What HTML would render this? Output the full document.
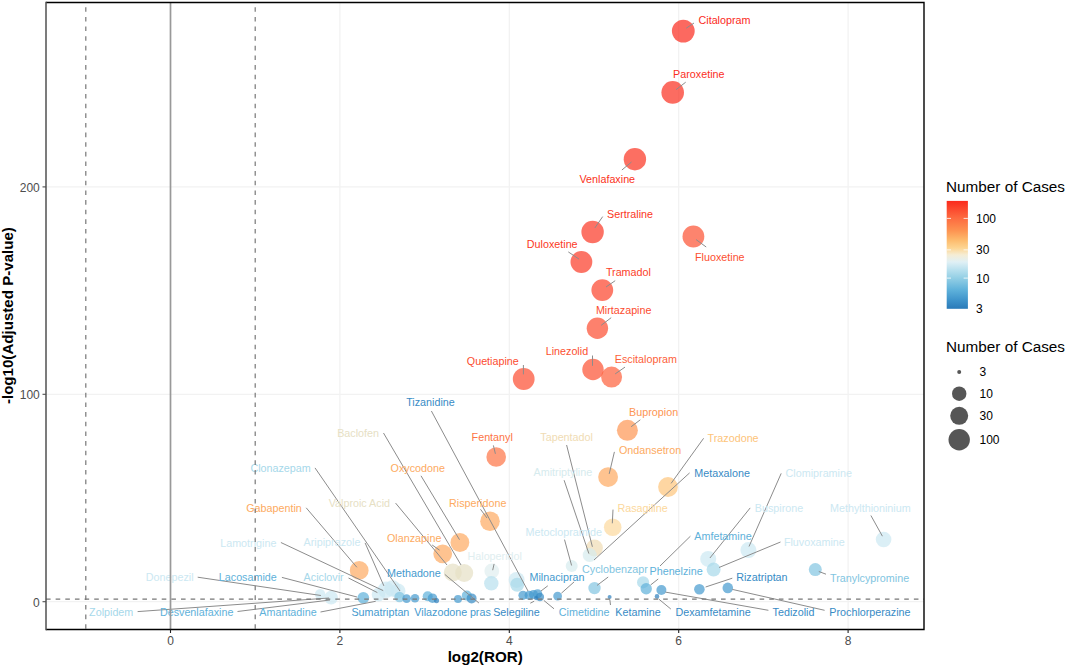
<!DOCTYPE html>
<html><head><meta charset="utf-8"><style>
html,body{margin:0;padding:0;background:#fff;}
svg{display:block;}
text{font-family:"Liberation Sans",sans-serif;}
</style></head><body>
<svg width="1065" height="667" viewBox="0 0 1065 667">
<defs><linearGradient id="cb" x1="0" y1="1" x2="0" y2="0">
<stop offset="0.000" stop-color="#2a7ab8"/>
<stop offset="0.082" stop-color="#3f94cb"/>
<stop offset="0.174" stop-color="#5eb1da"/>
<stop offset="0.285" stop-color="#93cfe5"/>
<stop offset="0.360" stop-color="#b8e0ee"/>
<stop offset="0.434" stop-color="#e0f0f5"/>
<stop offset="0.499" stop-color="#f5edd5"/>
<stop offset="0.563" stop-color="#fdd592"/>
<stop offset="0.638" stop-color="#fdba6c"/>
<stop offset="0.730" stop-color="#fd9150"/>
<stop offset="0.842" stop-color="#fd6a40"/>
<stop offset="1.000" stop-color="#fb2a1c"/>
</linearGradient></defs>
<rect width="1065" height="667" fill="#fff"/>
<line x1="339.9" y1="2.5" x2="339.9" y2="629.5" stroke="#f2f2f2" stroke-width="1.3"/>
<line x1="509.3" y1="2.5" x2="509.3" y2="629.5" stroke="#f2f2f2" stroke-width="1.3"/>
<line x1="678.7" y1="2.5" x2="678.7" y2="629.5" stroke="#f2f2f2" stroke-width="1.3"/>
<line x1="848.1" y1="2.5" x2="848.1" y2="629.5" stroke="#f2f2f2" stroke-width="1.3"/>
<line x1="46" y1="601.7" x2="924" y2="601.7" stroke="#f2f2f2" stroke-width="1.3"/>
<line x1="46" y1="394.3" x2="924" y2="394.3" stroke="#f2f2f2" stroke-width="1.3"/>
<line x1="46" y1="186.9" x2="924" y2="186.9" stroke="#f2f2f2" stroke-width="1.3"/>
<circle cx="683.3" cy="31.1" r="11.4" fill="#fb2a1c" fill-opacity="0.7"/>
<circle cx="672.7" cy="92.4" r="11.3" fill="#fb2e1e" fill-opacity="0.7"/>
<circle cx="634.9" cy="159.2" r="11.2" fill="#fb3220" fill-opacity="0.7"/>
<circle cx="592.6" cy="232.0" r="11.2" fill="#fb3623" fill-opacity="0.7"/>
<circle cx="693.4" cy="236.5" r="10.9" fill="#fc5031" fill-opacity="0.7"/>
<circle cx="581.4" cy="262.0" r="10.9" fill="#fb3925" fill-opacity="0.7"/>
<circle cx="602.3" cy="290.1" r="10.9" fill="#fc4129" fill-opacity="0.7"/>
<circle cx="597.4" cy="328.3" r="10.7" fill="#fc4c2f" fill-opacity="0.7"/>
<circle cx="593.0" cy="369.5" r="10.7" fill="#fc5031" fill-opacity="0.7"/>
<circle cx="611.6" cy="377.1" r="10.5" fill="#fd5f3a" fill-opacity="0.7"/>
<circle cx="523.7" cy="379.0" r="10.9" fill="#fc4c2f" fill-opacity="0.7"/>
<circle cx="496.2" cy="457.0" r="9.8" fill="#fd7444" fill-opacity="0.7"/>
<circle cx="627.4" cy="430.3" r="10.5" fill="#fd9553" fill-opacity="0.7"/>
<circle cx="608.1" cy="477.1" r="9.9" fill="#fdaa61" fill-opacity="0.7"/>
<circle cx="668.0" cy="487.0" r="9.9" fill="#fdc47a" fill-opacity="0.7"/>
<circle cx="490.0" cy="521.2" r="9.8" fill="#fdaa61" fill-opacity="0.7"/>
<circle cx="459.9" cy="542.5" r="9.4" fill="#fdaa61" fill-opacity="0.7"/>
<circle cx="442.7" cy="553.8" r="9.4" fill="#fdaa61" fill-opacity="0.7"/>
<circle cx="359.2" cy="570.4" r="9.4" fill="#fdaa61" fill-opacity="0.7"/>
<circle cx="612.7" cy="527.3" r="8.8" fill="#fcd89c" fill-opacity="0.7"/>
<circle cx="594.4" cy="548.0" r="8.5" fill="#f0dcb4" fill-opacity="0.7"/>
<circle cx="589.7" cy="555.1" r="7.0" fill="#d6ebee" fill-opacity="0.7"/>
<circle cx="452.8" cy="572.5" r="9.0" fill="#e6e0c4" fill-opacity="0.7"/>
<circle cx="464.2" cy="573.0" r="9.0" fill="#e6e0c4" fill-opacity="0.7"/>
<circle cx="491.8" cy="571.0" r="7.4" fill="#e0eef0" fill-opacity="0.7"/>
<circle cx="491.3" cy="583.3" r="7.2" fill="#b8e0ee" fill-opacity="0.7"/>
<circle cx="516.6" cy="579.9" r="8.0" fill="#cce8f2" fill-opacity="0.7"/>
<circle cx="517.2" cy="584.8" r="7.0" fill="#a6d8ea" fill-opacity="0.7"/>
<circle cx="571.7" cy="566.0" r="6.0" fill="#d6ebee" fill-opacity="0.7"/>
<circle cx="594.5" cy="588.1" r="6.2" fill="#81c5e1" fill-opacity="0.7"/>
<circle cx="320.1" cy="594.3" r="5.2" fill="#cce8f2" fill-opacity="0.7"/>
<circle cx="331.1" cy="597.6" r="6.8" fill="#cce8f2" fill-opacity="0.7"/>
<circle cx="363.3" cy="597.8" r="5.9" fill="#5eb1da" fill-opacity="0.7"/>
<circle cx="378.5" cy="594.6" r="6.8" fill="#cce8f2" fill-opacity="0.7"/>
<circle cx="386.0" cy="589.8" r="8.3" fill="#cce8f2" fill-opacity="0.7"/>
<circle cx="392.5" cy="588.5" r="8.3" fill="#cce8f2" fill-opacity="0.7"/>
<circle cx="398.0" cy="591.0" r="7.5" fill="#cce8f2" fill-opacity="0.7"/>
<circle cx="399.5" cy="597.0" r="5.2" fill="#81c5e1" fill-opacity="0.7"/>
<circle cx="406.6" cy="598.6" r="4.3" fill="#459ace" fill-opacity="0.7"/>
<circle cx="415.0" cy="598.2" r="4.3" fill="#459ace" fill-opacity="0.7"/>
<circle cx="427.7" cy="596.2" r="5.0" fill="#5eb1da" fill-opacity="0.7"/>
<circle cx="432.5" cy="598.2" r="4.8" fill="#459ace" fill-opacity="0.7"/>
<circle cx="436.5" cy="600.6" r="2.6" fill="#2e7fbc" fill-opacity="0.7"/>
<circle cx="458.0" cy="599.0" r="4.0" fill="#459ace" fill-opacity="0.7"/>
<circle cx="466.8" cy="595.6" r="5.0" fill="#5eb1da" fill-opacity="0.7"/>
<circle cx="471.6" cy="598.4" r="5.0" fill="#388bc5" fill-opacity="0.7"/>
<circle cx="523.0" cy="595.3" r="4.6" fill="#459ace" fill-opacity="0.7"/>
<circle cx="529.2" cy="595.3" r="4.6" fill="#459ace" fill-opacity="0.7"/>
<circle cx="533.5" cy="594.5" r="4.5" fill="#459ace" fill-opacity="0.7"/>
<circle cx="537.6" cy="593.8" r="4.6" fill="#459ace" fill-opacity="0.7"/>
<circle cx="539.9" cy="597.0" r="4.2" fill="#388bc5" fill-opacity="0.7"/>
<circle cx="536.2" cy="598.1" r="2.2" fill="#2e7fbc" fill-opacity="0.7"/>
<circle cx="557.6" cy="596.1" r="4.4" fill="#459ace" fill-opacity="0.7"/>
<circle cx="609.6" cy="596.9" r="2.0" fill="#2e7fbc" fill-opacity="0.7"/>
<circle cx="643.1" cy="582.3" r="6.1" fill="#a6d8ea" fill-opacity="0.7"/>
<circle cx="646.2" cy="588.7" r="5.7" fill="#5eb1da" fill-opacity="0.7"/>
<circle cx="661.4" cy="590.0" r="5.0" fill="#459ace" fill-opacity="0.7"/>
<circle cx="657.0" cy="596.4" r="2.3" fill="#2e7fbc" fill-opacity="0.7"/>
<circle cx="699.4" cy="589.2" r="5.3" fill="#459ace" fill-opacity="0.7"/>
<circle cx="727.8" cy="587.9" r="5.3" fill="#459ace" fill-opacity="0.7"/>
<circle cx="708.2" cy="558.9" r="8.0" fill="#cce8f2" fill-opacity="0.7"/>
<circle cx="713.6" cy="569.6" r="7.0" fill="#a6d8ea" fill-opacity="0.7"/>
<circle cx="748.4" cy="550.1" r="8.0" fill="#cce8f2" fill-opacity="0.7"/>
<circle cx="815.3" cy="569.6" r="6.5" fill="#81c5e1" fill-opacity="0.7"/>
<circle cx="883.6" cy="539.5" r="7.8" fill="#cce8f2" fill-opacity="0.7"/>
<line x1="686.2" y1="28.2" x2="694" y2="23" stroke="#8c8c8c" stroke-width="1.0"/>
<line x1="676" y1="89.7" x2="685.7" y2="82.2" stroke="#8c8c8c" stroke-width="1.0"/>
<line x1="631.5" y1="162" x2="621.9" y2="170" stroke="#8c8c8c" stroke-width="1.0"/>
<line x1="594.9" y1="227.9" x2="602.7" y2="216.6" stroke="#8c8c8c" stroke-width="1.0"/>
<line x1="696.1" y1="239.6" x2="706.2" y2="247" stroke="#8c8c8c" stroke-width="1.0"/>
<line x1="568.3" y1="251.9" x2="579" y2="259.1" stroke="#8c8c8c" stroke-width="1.0"/>
<line x1="606" y1="287" x2="615.2" y2="280.7" stroke="#8c8c8c" stroke-width="1.0"/>
<line x1="601.2" y1="325.3" x2="611.2" y2="317.7" stroke="#8c8c8c" stroke-width="1.0"/>
<line x1="592.5" y1="355.5" x2="592.5" y2="365.8" stroke="#8c8c8c" stroke-width="1.0"/>
<line x1="615.2" y1="373.9" x2="625" y2="367.1" stroke="#8c8c8c" stroke-width="1.0"/>
<line x1="523.4" y1="365" x2="523.4" y2="374.4" stroke="#8c8c8c" stroke-width="1.0"/>
<line x1="431.4" y1="411" x2="528" y2="591" stroke="#8c8c8c" stroke-width="1.0"/>
<line x1="383.5" y1="433" x2="461" y2="565" stroke="#8c8c8c" stroke-width="1.0"/>
<line x1="493.4" y1="445.4" x2="495.4" y2="453.8" stroke="#8c8c8c" stroke-width="1.0"/>
<line x1="315" y1="467.9" x2="400" y2="591" stroke="#8c8c8c" stroke-width="1.0"/>
<line x1="421" y1="475.8" x2="459.5" y2="539.7" stroke="#8c8c8c" stroke-width="1.0"/>
<line x1="395.6" y1="503.1" x2="447" y2="565" stroke="#8c8c8c" stroke-width="1.0"/>
<line x1="480.5" y1="509.3" x2="487" y2="518" stroke="#8c8c8c" stroke-width="1.0"/>
<line x1="306.2" y1="507.8" x2="356.9" y2="567.3" stroke="#8c8c8c" stroke-width="1.0"/>
<line x1="432.2" y1="545" x2="439.6" y2="550.2" stroke="#8c8c8c" stroke-width="1.0"/>
<line x1="444.8" y1="574.4" x2="478.9" y2="603" stroke="#8c8c8c" stroke-width="1.0"/>
<line x1="494.1" y1="563.9" x2="492.7" y2="570.2" stroke="#8c8c8c" stroke-width="1.0"/>
<line x1="280.9" y1="542.5" x2="383.2" y2="590.6" stroke="#8c8c8c" stroke-width="1.0"/>
<line x1="365.1" y1="542.9" x2="383.9" y2="585.9" stroke="#8c8c8c" stroke-width="1.0"/>
<line x1="281.9" y1="577.4" x2="357" y2="597" stroke="#8c8c8c" stroke-width="1.0"/>
<line x1="348.5" y1="578" x2="377.4" y2="592.6" stroke="#8c8c8c" stroke-width="1.0"/>
<line x1="197.7" y1="577.2" x2="320.9" y2="595.5" stroke="#8c8c8c" stroke-width="1.0"/>
<line x1="137.6" y1="611.6" x2="329" y2="598" stroke="#8c8c8c" stroke-width="1.0"/>
<line x1="237.5" y1="611.5" x2="330" y2="600" stroke="#8c8c8c" stroke-width="1.0"/>
<line x1="320.5" y1="612" x2="375.7" y2="601.3" stroke="#8c8c8c" stroke-width="1.0"/>
<line x1="543.8" y1="600.4" x2="554" y2="608.8" stroke="#8c8c8c" stroke-width="1.0"/>
<line x1="530.3" y1="603.2" x2="534.2" y2="601.2" stroke="#8c8c8c" stroke-width="1.0"/>
<line x1="609.8" y1="599.5" x2="610.5" y2="605" stroke="#8c8c8c" stroke-width="1.0"/>
<line x1="658.7" y1="599" x2="670.8" y2="609" stroke="#8c8c8c" stroke-width="1.0"/>
<line x1="665.4" y1="592.1" x2="768.4" y2="610.3" stroke="#8c8c8c" stroke-width="1.0"/>
<line x1="732.3" y1="589.4" x2="824.6" y2="610.3" stroke="#8c8c8c" stroke-width="1.0"/>
<line x1="732.3" y1="578.2" x2="705.6" y2="587" stroke="#8c8c8c" stroke-width="1.0"/>
<line x1="818.8" y1="571.5" x2="826" y2="574.2" stroke="#8c8c8c" stroke-width="1.0"/>
<line x1="658.2" y1="579" x2="650.7" y2="584.9" stroke="#8c8c8c" stroke-width="1.0"/>
<line x1="780.5" y1="542" x2="719" y2="567.5" stroke="#8c8c8c" stroke-width="1.0"/>
<line x1="690.4" y1="536.2" x2="660" y2="566" stroke="#8c8c8c" stroke-width="1.0"/>
<line x1="750.2" y1="507.9" x2="709.9" y2="558" stroke="#8c8c8c" stroke-width="1.0"/>
<line x1="781.2" y1="473.4" x2="749" y2="546.5" stroke="#8c8c8c" stroke-width="1.0"/>
<line x1="870.9" y1="515.5" x2="882.4" y2="536.2" stroke="#8c8c8c" stroke-width="1.0"/>
<line x1="689.6" y1="472.9" x2="594" y2="560" stroke="#8c8c8c" stroke-width="1.0"/>
<line x1="703.6" y1="438.3" x2="671.1" y2="483.4" stroke="#8c8c8c" stroke-width="1.0"/>
<line x1="631.2" y1="426.7" x2="640.3" y2="419.8" stroke="#8c8c8c" stroke-width="1.0"/>
<line x1="614.4" y1="451.9" x2="609.2" y2="473.9" stroke="#8c8c8c" stroke-width="1.0"/>
<line x1="566.6" y1="445" x2="592.4" y2="546.8" stroke="#8c8c8c" stroke-width="1.0"/>
<line x1="564.1" y1="480.2" x2="588.9" y2="553.6" stroke="#8c8c8c" stroke-width="1.0"/>
<line x1="613" y1="509.6" x2="612.3" y2="523.3" stroke="#8c8c8c" stroke-width="1.0"/>
<line x1="564.5" y1="539.6" x2="571.6" y2="565.5" stroke="#8c8c8c" stroke-width="1.0"/>
<line x1="597.1" y1="585.4" x2="608.2" y2="577" stroke="#8c8c8c" stroke-width="1.0"/>
<line x1="574.1" y1="581.9" x2="561.4" y2="593.2" stroke="#8c8c8c" stroke-width="1.0"/>
<line x1="547.8" y1="585.8" x2="541" y2="591" stroke="#8c8c8c" stroke-width="1.0"/>
<text x="698.5" y="24.2" font-size="10.75" fill="#fb2a1c">Citalopram</text>
<text x="673.1" y="78.1" font-size="10.75" fill="#fb2e1e">Paroxetine</text>
<text x="579.5" y="183.3" font-size="10.75" fill="#fb3220">Venlafaxine</text>
<text x="607.0" y="218.1" font-size="10.75" fill="#fb3623">Sertraline</text>
<text x="695.0" y="260.9" font-size="10.75" fill="#fc5031">Fluoxetine</text>
<text x="526.8" y="247.9" font-size="10.75" fill="#fb3925">Duloxetine</text>
<text x="605.9" y="275.7" font-size="10.75" fill="#fc4129">Tramadol</text>
<text x="595.9" y="313.5" font-size="10.75" fill="#fc4c2f">Mirtazapine</text>
<text x="545.7" y="355.4" font-size="10.75" fill="#fc5031">Linezolid</text>
<text x="614.8" y="362.9" font-size="10.75" fill="#fd5f3a">Escitalopram</text>
<text x="466.8" y="365.4" font-size="10.75" fill="#fc4c2f">Quetiapine</text>
<text x="406.2" y="406.3" font-size="10.75" fill="#388bc5">Tizanidine</text>
<text x="337.2" y="436.7" font-size="10.75" fill="#e6e0c4">Baclofen</text>
<text x="471.6" y="441.0" font-size="10.75" fill="#fd7444">Fentanyl</text>
<text x="250.4" y="471.9" font-size="10.75" fill="#a6d8ea">Clonazepam</text>
<text x="390.6" y="471.9" font-size="10.75" fill="#fdaa61">Oxycodone</text>
<text x="328.7" y="507.0" font-size="10.75" fill="#e6e0c4">Valproic Acid</text>
<text x="449.0" y="507.0" font-size="10.75" fill="#fdaa61">Risperidone</text>
<text x="246.2" y="511.6" font-size="10.75" fill="#fdaa61">Gabapentin</text>
<text x="387.0" y="541.8" font-size="10.75" fill="#fdaa61">Olanzapine</text>
<text x="387.0" y="576.9" font-size="10.75" fill="#459ace">Methadone</text>
<text x="467.5" y="559.7" font-size="10.75" fill="#e0eef0">Haloperidol</text>
<text x="220.2" y="546.6" font-size="10.75" fill="#cce8f2">Lamotrigine</text>
<text x="303.6" y="546.4" font-size="10.75" fill="#cce8f2">Aripiprazole</text>
<text x="218.8" y="581.3" font-size="10.75" fill="#5eb1da">Lacosamide</text>
<text x="303.6" y="581.1" font-size="10.75" fill="#a6d8ea">Aciclovir</text>
<text x="145.8" y="581.0" font-size="10.75" fill="#cce8f2">Donepezil</text>
<text x="89.1" y="616.1" font-size="10.75" fill="#a6d8ea">Zolpidem</text>
<text x="159.9" y="616.1" font-size="10.75" fill="#5eb1da">Desvenlafaxine</text>
<text x="259.3" y="616.2" font-size="10.75" fill="#5eb1da">Amantadine</text>
<text x="351.4" y="616.2" font-size="10.75" fill="#459ace">Sumatriptan</text>
<text x="414.3" y="616.2" font-size="10.75" fill="#459ace">Vilazodone</text>
<text x="469.9" y="616.2" font-size="10.75" fill="#459ace">pras</text>
<text x="493.2" y="616.2" font-size="10.75" fill="#388bc5">Selegiline</text>
<text x="558.8" y="615.8" font-size="10.75" fill="#5eb1da">Cimetidine</text>
<text x="615.3" y="615.8" font-size="10.75" fill="#388bc5">Ketamine</text>
<text x="675.4" y="616.0" font-size="10.75" fill="#388bc5">Dexamfetamine</text>
<text x="772.6" y="616.0" font-size="10.75" fill="#388bc5">Tedizolid</text>
<text x="829.3" y="616.0" font-size="10.75" fill="#388bc5">Prochlorperazine</text>
<text x="736.2" y="581.2" font-size="10.75" fill="#388bc5">Rizatriptan</text>
<text x="830.1" y="582.0" font-size="10.75" fill="#81c5e1">Tranylcypromine</text>
<text x="649.5" y="574.6" font-size="10.75" fill="#5eb1da">Phenelzine</text>
<text x="783.9" y="546.0" font-size="10.75" fill="#cce8f2">Fluvoxamine</text>
<text x="694.3" y="540.0" font-size="10.75" fill="#5eb1da">Amfetamine</text>
<text x="754.8" y="511.7" font-size="10.75" fill="#cce8f2">Buspirone</text>
<text x="785.6" y="476.8" font-size="10.75" fill="#cce8f2">Clomipramine</text>
<text x="830.0" y="511.7" font-size="10.75" fill="#cce8f2">Methylthioninium</text>
<text x="694.3" y="476.8" font-size="10.75" fill="#388bc5">Metaxalone</text>
<text x="707.6" y="441.8" font-size="10.75" fill="#fdc47a">Trazodone</text>
<text x="629.1" y="416.0" font-size="10.75" fill="#fd9553">Bupropion</text>
<text x="619.0" y="453.8" font-size="10.75" fill="#fdaa61">Ondansetron</text>
<text x="540.3" y="440.8" font-size="10.75" fill="#f0dcb4">Tapentadol</text>
<text x="533.6" y="476.0" font-size="10.75" fill="#d6ebee">Amitriptyline</text>
<text x="617.5" y="511.7" font-size="10.75" fill="#fcd89c">Rasagiline</text>
<text x="525.6" y="535.5" font-size="10.75" fill="#cce8f2">Metoclopramide</text>
<text x="582.1" y="572.5" font-size="10.75" fill="#81c5e1">Cyclobenzapr</text>
<text x="529.5" y="581.3" font-size="10.75" fill="#459ace">Milnacipran</text>
<line x1="170.5" y1="2.5" x2="170.5" y2="629.5" stroke="#999" stroke-width="1.7"/>
<line x1="85.8" y1="629.5" x2="85.8" y2="2.5" stroke="#777" stroke-width="1.2" stroke-dasharray="4.6 5.04" stroke-dashoffset="-0.7"/>
<line x1="255.2" y1="629.5" x2="255.2" y2="2.5" stroke="#777" stroke-width="1.2" stroke-dasharray="4.6 5.04" stroke-dashoffset="-0.7"/>
<line x1="46" y1="599.2" x2="924" y2="599.2" stroke="#777" stroke-width="1.2" stroke-dasharray="4.6 5.043"/>
<path d="M46,629.5 H924 V2.5 H46" fill="none" stroke="#000" stroke-width="1.4"/>
<line x1="46" y1="1.8" x2="46" y2="630.2" stroke="#505050" stroke-width="1.5"/>
<line x1="170.5" y1="629.5" x2="170.5" y2="633.0" stroke="#222" stroke-width="1.1"/>
<text x="170.5" y="645.2" font-size="12" fill="#4d4d4d" text-anchor="middle">0</text>
<line x1="339.9" y1="629.5" x2="339.9" y2="633.0" stroke="#222" stroke-width="1.1"/>
<text x="339.9" y="645.2" font-size="12" fill="#4d4d4d" text-anchor="middle">2</text>
<line x1="509.3" y1="629.5" x2="509.3" y2="633.0" stroke="#222" stroke-width="1.1"/>
<text x="509.3" y="645.2" font-size="12" fill="#4d4d4d" text-anchor="middle">4</text>
<line x1="678.7" y1="629.5" x2="678.7" y2="633.0" stroke="#222" stroke-width="1.1"/>
<text x="678.7" y="645.2" font-size="12" fill="#4d4d4d" text-anchor="middle">6</text>
<line x1="848.1" y1="629.5" x2="848.1" y2="633.0" stroke="#222" stroke-width="1.1"/>
<text x="848.1" y="645.2" font-size="12" fill="#4d4d4d" text-anchor="middle">8</text>
<line x1="42.5" y1="601.7" x2="46" y2="601.7" stroke="#505050" stroke-width="1.1"/>
<text x="39.8" y="606.7" font-size="12" fill="#4d4d4d" text-anchor="end">0</text>
<line x1="42.5" y1="394.3" x2="46" y2="394.3" stroke="#505050" stroke-width="1.1"/>
<text x="39.8" y="399.3" font-size="12" fill="#4d4d4d" text-anchor="end">100</text>
<line x1="42.5" y1="186.9" x2="46" y2="186.9" stroke="#505050" stroke-width="1.1"/>
<text x="39.8" y="191.9" font-size="12" fill="#4d4d4d" text-anchor="end">200</text>
<text x="485.2" y="662" font-size="15.2" font-weight="bold" text-anchor="middle" fill="#000">log2(ROR)</text>
<text transform="translate(12.6,315.6) rotate(-90)" font-size="15.1" font-weight="bold" text-anchor="middle" fill="#000">-log10(Adjusted P-value)</text>
<text x="946" y="191.9" font-size="15.3" fill="#000">Number of Cases</text>
<rect x="946.7" y="200.9" width="21.2" height="107.9" fill="url(#cb)"/>
<line x1="946.7" y1="218.4" x2="951" y2="218.4" stroke="#fff" stroke-width="1" opacity="0.8"/>
<line x1="963.6" y1="218.4" x2="967.9" y2="218.4" stroke="#fff" stroke-width="1" opacity="0.8"/>
<text x="976" y="222.8" font-size="12" fill="#000">100</text>
<line x1="946.7" y1="249.9" x2="951" y2="249.9" stroke="#fff" stroke-width="1" opacity="0.8"/>
<line x1="963.6" y1="249.9" x2="967.9" y2="249.9" stroke="#fff" stroke-width="1" opacity="0.8"/>
<text x="976" y="254.3" font-size="12" fill="#000">30</text>
<line x1="946.7" y1="278.1" x2="951" y2="278.1" stroke="#fff" stroke-width="1" opacity="0.8"/>
<line x1="963.6" y1="278.1" x2="967.9" y2="278.1" stroke="#fff" stroke-width="1" opacity="0.8"/>
<text x="976" y="282.5" font-size="12" fill="#000">10</text>
<text x="976" y="313.2" font-size="12" fill="#000">3</text>
<text x="946" y="351.6" font-size="15.3" fill="#000">Number of Cases</text>
<circle cx="959.2" cy="371.9" r="2.0" fill="#4d4d4d" fill-opacity="0.95"/>
<text x="979.5" y="376.3" font-size="12" fill="#000">3</text>
<circle cx="959.2" cy="393.7" r="7.2" fill="#4d4d4d" fill-opacity="0.95"/>
<text x="979.5" y="398.1" font-size="12" fill="#000">10</text>
<circle cx="959.2" cy="415.8" r="9.0" fill="#4d4d4d" fill-opacity="0.95"/>
<text x="979.5" y="420.2" font-size="12" fill="#000">30</text>
<circle cx="959.2" cy="439.7" r="10.7" fill="#4d4d4d" fill-opacity="0.95"/>
<text x="979.5" y="444.1" font-size="12" fill="#000">100</text>
</svg></body></html>
